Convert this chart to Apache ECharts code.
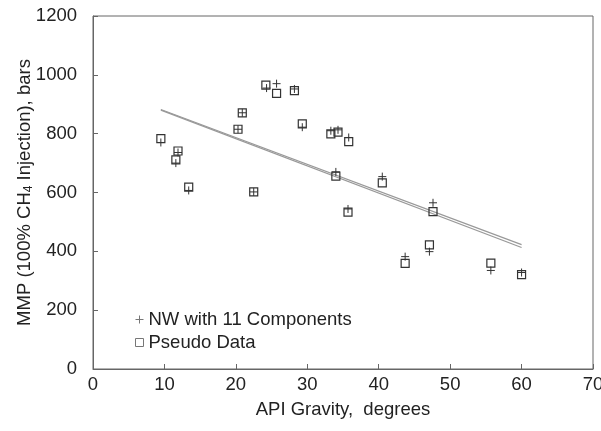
<!DOCTYPE html>
<html><head><meta charset="utf-8">
<script src="https://cdn.jsdelivr.net/npm/echarts@6/dist/echarts.min.js"></script>
<style>html,body{margin:0;padding:0;background:#fff}#c{width:601px;height:431px}</style>
</head><body><div id="c"></div>
<script>
var xTicks = [0,10,20,30,40,50,60,70];
var yTicks = [0,200,400,600,800,1000,1200];
var pseudoData = [[9.5,783],[11.9,741],[11.6,711],[13.4,618],[20.9,871],[20.3,815],[22.5,602],[24.2,965],[25.7,937],[28.2,946],[29.3,833],[33.3,799],[34.3,805],[35.8,773],[34.0,656],[35.7,533],[40.5,633],[47.6,535],[47.1,422],[43.7,359],[55.7,360],[60.0,321]];
var nwData = [[9.5,770],[11.9,736],[11.6,700],[13.4,607],[20.9,871],[20.3,815],[22.5,602],[24.3,955],[25.7,970],[28.2,952],[29.3,822],[33.3,810],[34.3,813],[35.8,787],[34.0,670],[35.7,544],[40.5,654],[47.6,565],[47.1,399],[43.7,382],[55.7,335],[60.0,328]];
var fitNW = [[9.5,882],[60.0,423]];
var fitPseudo = [[9.5,880],[60.0,413]];

var plusPath = 'path://M5,0L5,10M0,5L10,5';
var chart = echarts.init(document.getElementById('c'));
var font = 'Liberation Sans, Arial, sans-serif';
chart.setOption({
  animation:false,
  backgroundColor:'#fff',
  grid:{left:93,top:16,right:8,bottom:62,outerBoundsMode:'none',containLabel:false,show:true,borderColor:'#666',borderWidth:1,backgroundColor:'transparent'},
  legend:{
    orient:'vertical',left:128,top:305,itemWidth:8,itemHeight:8,itemGap:4,
    textStyle:{fontFamily:font,fontSize:18.5,color:'#222',padding:[0,0,0,0]},
    data:[{name:'NW with 11 Components',icon:plusPath,itemStyle:{color:'none',borderColor:'#777',borderWidth:1}},
          {name:'Pseudo Data',icon:'rect',itemStyle:{color:'#fff',borderColor:'#777',borderWidth:1}}]
  },
  xAxis:{type:'value',min:0,max:70,interval:10,
    name:'API Gravity,  degrees',nameLocation:'middle',nameGap:31,nameMoveOverlap:false,
    nameTextStyle:{fontFamily:font,fontSize:18.5,color:'#222'},
    axisLine:{lineStyle:{color:'#666',width:1}},
    axisTick:{inside:true,length:5,lineStyle:{color:'#666'}},
    axisLabel:{fontFamily:font,fontSize:18.5,color:'#222',margin:6,formatter:function(v){return xTicks.indexOf(v)>=0?String(v):'';}},
    splitLine:{show:false}},
  yAxis:{type:'value',min:0,max:1200,interval:200,
    name:'{a|MMP (100% CH}{s|4}{a| Injection), bars}',nameLocation:'middle',nameGap:58,nameMoveOverlap:false,
    nameTextStyle:{fontFamily:font,fontSize:18.5,color:'#222',rich:{a:{fontFamily:font,fontSize:18.5,color:'#222'},s:{fontFamily:font,fontSize:12,color:'#222',padding:[9,0,0,0]}}},
    axisLine:{lineStyle:{color:'#666',width:1}},
    axisTick:{inside:true,length:5,lineStyle:{color:'#666'}},
    axisLabel:{fontFamily:font,fontSize:18.5,color:'#222',margin:16,formatter:function(v){return yTicks.indexOf(v)>=0?String(v):'';}},
    splitLine:{show:false}},
  series:[
    {type:'line',data:fitNW,symbol:'none',silent:true,lineStyle:{color:'#999',width:1.2},z:1},
    {type:'line',data:fitPseudo,symbol:'none',silent:true,lineStyle:{color:'#999',width:1.2},z:1},
    {name:'NW with 11 Components',type:'scatter',data:nwData,symbol:plusPath,symbolSize:8,
      itemStyle:{color:'none',borderColor:'#333',borderWidth:1,opacity:1},z:3},
    {name:'Pseudo Data',type:'scatter',data:pseudoData,symbol:'rect',symbolSize:8,
      itemStyle:{color:'rgba(0,0,0,0)',borderColor:'#333',borderWidth:1.2,opacity:1},z:4}
  ]
});
</script></body></html>
